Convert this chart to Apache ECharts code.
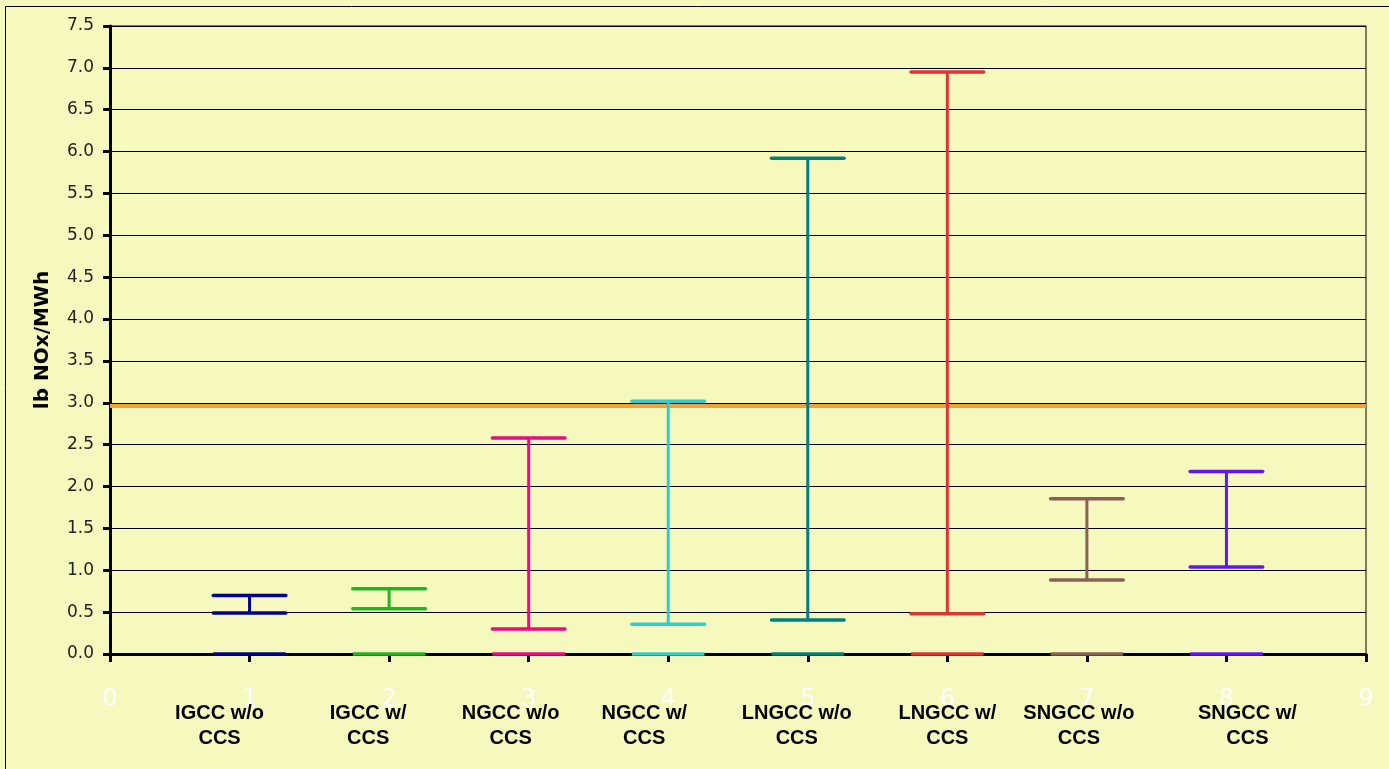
<!DOCTYPE html>
<html>
<head>
<meta charset="utf-8">
<script src="https://cdn.jsdelivr.net/npm/echarts@6/dist/echarts.min.js"></script>
<style>html,body{margin:0;padding:0;background:#F5F9BE;}#c{width:1389px;height:769px;}</style>
</head>
<body>
<div id="c"></div>
<script>
var categories = ['IGCC w/o\nCCS','IGCC w/\nCCS','NGCC w/o\nCCS','NGCC w/\nCCS','LNGCC w/o\nCCS','LNGCC w/\nCCS','SNGCC w/o\nCCS','SNGCC w/\nCCS'];
var positions = [1,2,3,4,5,6,7,8];
var lowValues = [0.49,0.54,0.30,0.355,0.405,0.48,0.885,1.04];
var highValues = [0.70,0.78,2.58,3.02,5.92,6.95,1.855,2.18];
var colors = ['#000090','#22B522','#F0068A','#33CCCC','#007F7F','#E03333','#8A5E59','#6314FF'];
var limitValue = 2.97;
// layout only: horizontal shift (px) of each category caption relative to its tick
var labelShift = [-30,-21,-18,-24,-11,0,-8,21];

var chart = echarts.init(document.getElementById('c'));
var data = positions.map(function(p,i){return {value:[p, lowValues[i], highValues[i]], itemStyle:{color:colors[i]}};});

var rich = {};
labelShift.forEach(function(s,i){
  rich['s'+i] = {color:'#000',fontSize:20,fontWeight:'bold',fontFamily:'Liberation Sans',lineHeight:25,
    padding: s<0 ? [0,-2*s,0,0] : [0,0,0,2*s]};
});

chart.setOption({
  backgroundColor:'#F5F9BE',
  animation:false,
  graphic:[{type:'rect', shape:{x:5.5,y:6.5,width:1400,height:800}, style:{fill:'none',stroke:'#000',lineWidth:1}, z:-1}],
  grid:{left:110,right:23,top:26,bottom:115,show:true,borderColor:'#000',borderWidth:1,backgroundColor:'transparent'},
  xAxis:[{
    type:'value',min:0,max:9,interval:1,
    axisLine:{lineStyle:{color:'#000',width:3}},
    axisTick:{show:true,length:8,lineStyle:{color:'#000',width:3}},
    splitLine:{show:false},
    axisLabel:{color:'#FFFFFF',fontSize:24,fontFamily:'DejaVu Sans',margin:34}
  },{
    type:'value',min:0,max:9,interval:1,position:'bottom',
    axisLine:{show:false},axisTick:{show:false},splitLine:{show:false},
    axisLabel:{color:'#000',fontSize:20,fontWeight:'bold',fontFamily:'Liberation Sans',lineHeight:25,margin:47,rich:rich,
      formatter:function(v){var i=positions.indexOf(v);if(i<0)return '';
        return categories[i].split('\n').map(function(t){return '{s'+i+'|'+t+'}';}).join('\n');}}
  }],
  yAxis:{
    type:'value',min:0,max:7.5,interval:0.5,
    name:'lb NOx/MWh',nameLocation:'middle',nameGap:57,
    nameTextStyle:{fontSize:20,fontWeight:'bold',fontFamily:'DejaVu Sans',color:'#000'},
    axisLine:{show:true,lineStyle:{color:'#000',width:3}},
    axisTick:{show:true,length:7,lineStyle:{color:'#000',width:3}},
    splitLine:{lineStyle:{color:'#000',width:1}},
    axisLabel:{color:'#222',fontSize:17,fontFamily:'DejaVu Sans',margin:16,formatter:function(v){return v.toFixed(1);}}
  },
  series:[{
    type:'custom',
    xAxisIndex:0,
    data:data,
    z:5,
    renderItem:function(params, api){
      var x = api.value(0), lo = api.value(1), hi = api.value(2);
      var p0 = api.coord([x,0]), pl = api.coord([x,lo]), ph = api.coord([x,hi]);
      var hw = api.size([0.26,0])[0];
      var c = api.visual('color');
      var st = {stroke:c,lineWidth:3.5,lineCap:'round'};
      return {type:'group',children:[
        {type:'line',shape:{x1:p0[0]-hw,y1:p0[1],x2:p0[0]+hw,y2:p0[1]},style:{stroke:c,lineWidth:3.5}},
        {type:'line',shape:{x1:pl[0],y1:pl[1],x2:ph[0],y2:ph[1]},style:{stroke:c,lineWidth:3}},
        {type:'line',shape:{x1:pl[0]-hw,y1:pl[1],x2:pl[0]+hw,y2:pl[1]},style:st},
        {type:'line',shape:{x1:ph[0]-hw,y1:ph[1],x2:ph[0]+hw,y2:ph[1]},style:st}
      ]};
    }
  },{
    type:'line',
    data:[],
    markLine:{symbol:'none',silent:true,label:{show:false},lineStyle:{color:'#F5A040',width:4,type:'solid'},data:[{yAxis:limitValue}]},
    z:4
  }]
});
</script>
</body>
</html>
